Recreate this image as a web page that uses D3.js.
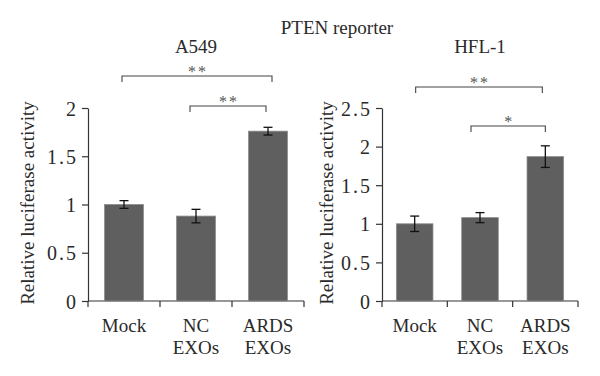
<!DOCTYPE html>
<html>
<head>
<meta charset="utf-8">
<script src="https://cdn.jsdelivr.net/npm/d3@7"></script>
<style>
  body { margin: 0; background: #fff; }
  svg { display: block; }
  svg text { font-family: "Liberation Serif", "DejaVu Serif", serif; }
</style>
</head>
<body>
<svg id="chart" width="600" height="376"></svg>
<script>
// categories and values
const categories = ["Mock", "NC EXOs", "ARDS EXOs"];
const a549Values = [1.0, 0.88, 1.76];
const a549Errors = [0.04, 0.07, 0.04];
const hflValues = [1.0, 1.08, 1.87];
const hflErrors = [0.1, 0.065, 0.14];
const a549Ticks = [0, 0.5, 1, 1.5, 2];
const hflTicks = [0, 0.5, 1, 1.5, 2, 2.5];

const svg = d3.select("#chart");
const textColor = "#2a2a2a";

svg.append("text")
  .attr("x", 337).attr("y", 34)
  .attr("text-anchor", "middle")
  .attr("font-size", 19)
  .attr("fill", textColor)
  .text("PTEN reporter");

function drawPanel(opt) {
  const g = svg.append("g");
  const x = d3.scaleBand().domain(categories).range([opt.x0, opt.x1]).padding(0);
  const y = d3.scaleLinear().domain([0, opt.max]).range([301, 108]);
  const barW = x.bandwidth() * opt.barFrac;

  // y axis
  const yAxis = g.append("g")
    .attr("transform", `translate(${opt.x0},0)`)
    .call(d3.axisLeft(y).tickValues(opt.ticks).tickSize(6).tickSizeOuter(0).tickPadding(4)
      .tickFormat(d => d3.format("")(d)));
  yAxis.attr("font-family", null).attr("font-size", null);
  yAxis.select(".domain").attr("stroke", "#333").attr("stroke-width", 1.2);
  yAxis.selectAll(".tick line").attr("stroke", "#333").attr("stroke-width", 1.2);
  yAxis.selectAll(".tick text")
    .attr("font-size", 20)
    .attr("letter-spacing", 2)
    .attr("fill", textColor).attr("dy", "0.35em");

  // x axis with separator ticks at band edges
  const xLine = g.append("g");
  xLine.append("line")
    .attr("x1", opt.x0).attr("x2", opt.x1)
    .attr("y1", y(0)).attr("y2", y(0))
    .attr("stroke", "#333").attr("stroke-width", 1.2);
  const edges = categories.map(c => x(c)).concat([x(categories[2]) + x.bandwidth()]);
  xLine.selectAll("line.sep").data(edges).join("line")
    .attr("class", "sep")
    .attr("x1", d => d).attr("x2", d => d)
    .attr("y1", y(0)).attr("y2", y(0) + 6)
    .attr("stroke", "#333").attr("stroke-width", 1.2);

  // category labels
  const lab = g.selectAll("text.cat").data(categories).join("text")
    .attr("class", "cat")
    .attr("text-anchor", "middle")
    .attr("font-size", 19)
    .attr("fill", textColor);
  lab.each(function (d) {
    const t = d3.select(this);
    const parts = d.split(" ");
    const cx = x(d) + x.bandwidth() / 2;
    parts.forEach((p, i) => {
      t.append("tspan").attr("x", cx).attr("y", 332 + i * 22).text(p);
    });
  });

  // bars
  g.selectAll("rect.bar").data(opt.values).join("rect")
    .attr("class", "bar")
    .attr("x", (d, i) => x(categories[i]) + (x.bandwidth() - barW) / 2)
    .attr("y", d => y(d))
    .attr("width", barW)
    .attr("height", d => y(0) - y(d))
    .attr("fill", "#5f5f5f")
    .attr("stroke", "#8c8c8c")
    .attr("stroke-width", 0.8);

  // error bars
  const eb = g.selectAll("g.err").data(opt.values).join("g").attr("class", "err");
  eb.each(function (d, i) {
    const cx = x(categories[i]) + x.bandwidth() / 2;
    const e = opt.errors[i];
    const gg = d3.select(this);
    gg.append("line").attr("x1", cx).attr("x2", cx).attr("y1", y(d + e)).attr("y2", y(d - e));
    gg.append("line").attr("x1", cx - 4.5).attr("x2", cx + 4.5).attr("y1", y(d + e)).attr("y2", y(d + e));
    gg.append("line").attr("x1", cx - 4.5).attr("x2", cx + 4.5).attr("y1", y(d - e)).attr("y2", y(d - e));
  });
  eb.selectAll("line").attr("stroke", "#111").attr("stroke-width", 1.3);

  // y axis label
  g.append("text")
    .attr("transform", `translate(${opt.labelX},203) rotate(-90)`)
    .attr("text-anchor", "middle")
    .attr("font-size", 19)
    .attr("fill", textColor)
    .text("Relative luciferase activity");

  // panel title
  g.append("text")
    .attr("x", opt.titleX).attr("y", 53)
    .attr("text-anchor", "middle")
    .attr("font-size", 19)
    .attr("fill", textColor)
    .text(opt.title);

  // significance brackets
  opt.brackets.forEach(b => {
    const xa = x(categories[b.from]) + x.bandwidth() / 2 + b.dx0;
    const xb = x(categories[b.to]) + x.bandwidth() / 2 + b.dx1;
    g.append("path")
      .attr("d", `M${xa},${b.y + 6}V${b.y}H${xb}V${b.y + 6}`)
      .attr("fill", "none").attr("stroke", "#444").attr("stroke-width", 1.1);
    g.append("text")
      .attr("x", (xa + xb) / 2 + 1).attr("y", b.y + 1)
      .attr("text-anchor", "middle")
      .attr("font-size", 16)
      .attr("letter-spacing", 2)
      .attr("fill", "#555")
      .text(b.label);
  });
}

drawPanel({
  x0: 88, x1: 304, max: 2, ticks: a549Ticks,
  values: a549Values, errors: a549Errors, barFrac: 0.54,
  labelX: 34, title: "A549", titleX: 196,
  brackets: [
    { from: 0, to: 2, y: 76, label: "**", dx0: -2, dx1: 4 },
    { from: 1, to: 2, y: 106, label: "**", dx0: -6, dx1: -2 }
  ]
});

drawPanel({
  x0: 382, x1: 578, max: 2.5, ticks: hflTicks,
  values: hflValues, errors: hflErrors, barFrac: 0.56,
  labelX: 333, title: "HFL-1", titleX: 480,
  brackets: [
    { from: 0, to: 2, y: 87, label: "**", dx0: 1, dx1: -3 },
    { from: 1, to: 2, y: 126, label: "*", dx0: -9, dx1: 0 }
  ]
});
</script>
</body>
</html>
